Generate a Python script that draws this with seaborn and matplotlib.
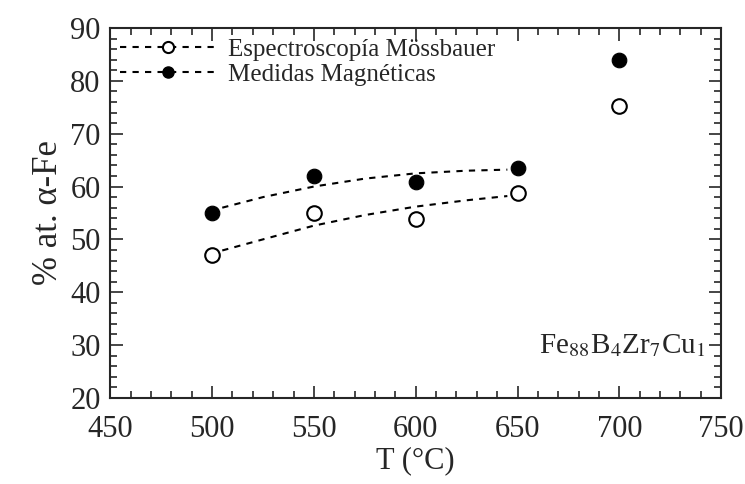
import matplotlib
matplotlib.use('Agg')
import matplotlib.pyplot as plt
import seaborn as sns
import pandas as pd
from matplotlib.lines import Line2D
from matplotlib.ticker import MultipleLocator

temps = [500, 550, 600, 650, 700]
mossbauer = [47.0, 55.0, 53.9, 58.8, 75.3]
magneticas = [55.0, 62.0, 60.8, 63.6, 83.9]

fit_t = [505, 525, 550, 575, 600, 625, 645]
fit_moss = [47.9, 50.0, 52.6, 54.6, 56.2, 57.4, 58.2]
fit_mag = [56.0, 58.0, 60.0, 61.5, 62.5, 63.0, 63.2]

sns.set_style('ticks')
plt.rcParams['font.family'] = ['Liberation Serif', 'DejaVu Serif']
plt.rcParams['mathtext.fontset'] = 'stix'

df = pd.DataFrame({'T': temps, 'moss': mossbauer, 'mag': magneticas})
fit = pd.DataFrame({'T': fit_t, 'moss': fit_moss, 'mag': fit_mag})

fig, ax = plt.subplots(figsize=(7.45, 4.84), dpi=100)
fig.subplots_adjust(left=0.148, right=0.968, top=0.942, bottom=0.178)

dash = (0, (3, 3))
sns.lineplot(x='T', y='moss', data=fit, ax=ax, color='black', linestyle=dash, lw=1.5)
sns.lineplot(x='T', y='mag', data=fit, ax=ax, color='black', linestyle=dash, lw=1.5)
sns.scatterplot(x='T', y='moss', data=df, ax=ax, s=110, facecolor='white',
                edgecolor='black', linewidth=1.5, zorder=3)
sns.scatterplot(x='T', y='mag', data=df, ax=ax, s=110, color='black',
                edgecolor='black', zorder=3)

ax.set_xlim(450, 750)
ax.set_ylim(20, 90)
ax.xaxis.set_major_locator(MultipleLocator(50))
ax.xaxis.set_minor_locator(MultipleLocator(10))
ax.yaxis.set_major_locator(MultipleLocator(10))
ax.yaxis.set_minor_locator(MultipleLocator(2))
ax.tick_params(which='both', direction='in', top=True, right=True, labelsize=22, width=1.2)
ax.tick_params(which='major', length=9)
ax.tick_params(which='minor', length=5)
ax.tick_params(axis='y', which='major', pad=7)
ax.tick_params(axis='x', which='major', pad=12)
for sp in ax.spines.values():
    sp.set_linewidth(1.5)

ax.set_xlabel('T (°C)', fontsize=22, labelpad=2)
ax.set_ylabel('% at. α-Fe', fontsize=25, labelpad=4)

ax.text(0.975, 0.12, r'Fe$_{88}$B$_4$Zr$_7$Cu$_1$', transform=ax.transAxes,
        ha='right', va='baseline', fontsize=21)

handles = [
    Line2D([], [], color='black', linestyle=dash, lw=1.5, marker='o',
           markersize=8, markerfacecolor='white', markeredgecolor='black', markeredgewidth=1.5),
    Line2D([], [], color='black', linestyle=dash, lw=1.5, marker='o',
           markersize=8, markerfacecolor='black', markeredgecolor='black'),
]
ax.legend(handles, ['Espectroscopía Mössbauer', 'Medidas Magnéticas'], loc='upper left',
          frameon=False, fontsize=18, handlelength=3.8, handletextpad=0.5,
          borderaxespad=0.0, borderpad=0.4, labelspacing=0.1, numpoints=1)

fig.savefig('out.png', dpi=100)
